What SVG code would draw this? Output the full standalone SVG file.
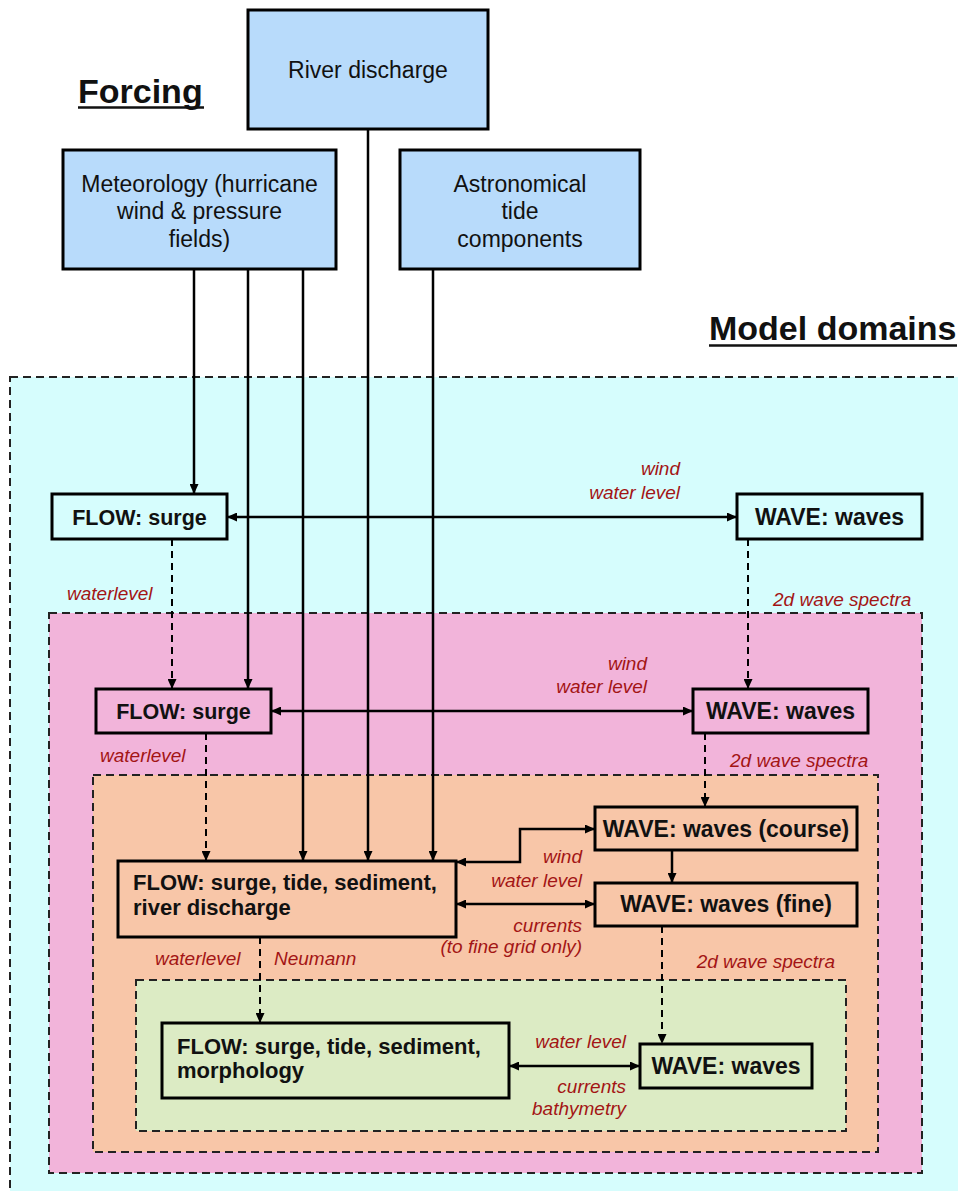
<svg xmlns="http://www.w3.org/2000/svg" width="958" height="1191" viewBox="0 0 958 1191">
  <defs>
    <marker id="arr" viewBox="0 0 10 9" refX="10" refY="4.5" markerWidth="10" markerHeight="9" markerUnits="userSpaceOnUse" orient="auto-start-reverse">
      <path d="M0,0 L10,4.5 L0,9 z" fill="#000"/>
    </marker>
    <style>
      .forcing { fill: #b8dbfb; stroke: #000; stroke-width: 3; }
      .node { stroke: #000; stroke-width: 3; }
      .domain { stroke: #222; stroke-width: 2; stroke-dasharray: 8 5; }
      .ftxt { font-family: "Liberation Sans", Arial, sans-serif; font-size: 23px; fill: #111; text-anchor: middle; }
      .ntxt { font-family: "Liberation Sans", Arial, sans-serif; font-size: 22px; font-weight: bold; fill: #111; }
      .wtxt { font-size: 23px; }
      .stxt { font-size: 21.5px; }
      .mid { text-anchor: middle; }
      .lbl { font-family: "Liberation Sans", Arial, sans-serif; font-size: 19px; font-style: italic; fill: #a31515; }
      .end { text-anchor: end; }
      .title { font-family: "Liberation Sans", Arial, sans-serif; font-size: 34px; font-weight: bold; fill: #111; }
      .solid { stroke: #000; stroke-width: 2.5; fill: none; }
      .dash { stroke: #000; stroke-width: 2; fill: none; stroke-dasharray: 7 5; }
    </style>
  </defs>

  <rect width="958" height="1191" fill="#fff"/>

  <!-- model domain containers -->
  <g id="domains">
    <rect class="domain" x="10" y="377" width="960" height="830" fill="#d6fdfd"/>
    <rect class="domain" x="49" y="613" width="873" height="560" fill="#f2b4da"/>
    <rect class="domain" x="93" y="775" width="785" height="377" fill="#f8c6a8"/>
    <rect class="domain" x="136" y="980" width="710" height="151" fill="#dcebc4"/>
  </g>

  <!-- headings -->
  <g id="headings">
    <text class="title" x="78" y="103">Forcing</text>
    <line x1="78" y1="107.5" x2="204" y2="107.5" stroke="#111" stroke-width="2.5"/>
    <text class="title" x="709" y="340">Model domains</text>
    <line x1="709" y1="345.5" x2="957" y2="345.5" stroke="#111" stroke-width="2.5"/>
  </g>

  <!-- connectors -->
  <g id="connectors">
    <line class="solid" x1="194" y1="269" x2="194" y2="494" marker-end="url(#arr)"/>
    <line class="solid" x1="248" y1="269" x2="248" y2="689" marker-end="url(#arr)"/>
    <line class="solid" x1="303" y1="269" x2="303" y2="861" marker-end="url(#arr)"/>
    <line class="solid" x1="368" y1="129" x2="368" y2="861" marker-end="url(#arr)"/>
    <line class="solid" x1="433" y1="269" x2="433" y2="861" marker-end="url(#arr)"/>

    <line class="solid" x1="227" y1="517" x2="737" y2="517" marker-start="url(#arr)" marker-end="url(#arr)"/>
    <line class="dash" x1="172" y1="539" x2="172" y2="689" marker-end="url(#arr)"/>
    <line class="dash" x1="748" y1="539" x2="748" y2="689" marker-end="url(#arr)"/>

    <line class="solid" x1="271" y1="711" x2="693" y2="711" marker-start="url(#arr)" marker-end="url(#arr)"/>
    <line class="dash" x1="206" y1="733" x2="206" y2="861" marker-end="url(#arr)"/>
    <line class="dash" x1="705" y1="733" x2="705" y2="807" marker-end="url(#arr)"/>

    <polyline class="solid" points="456,862 520,862 520,829 595,829" marker-start="url(#arr)" marker-end="url(#arr)"/>
    <line class="solid" x1="672" y1="850" x2="672" y2="883" marker-end="url(#arr)"/>
    <line class="solid" x1="456" y1="904" x2="595" y2="904" marker-start="url(#arr)" marker-end="url(#arr)"/>

    <line class="dash" x1="260" y1="937" x2="260" y2="1023" marker-end="url(#arr)"/>
    <line class="dash" x1="662" y1="926" x2="662" y2="1044" marker-end="url(#arr)"/>
    <line class="solid" x1="509" y1="1066" x2="640" y2="1066" marker-start="url(#arr)" marker-end="url(#arr)"/>
  </g>

  <!-- forcing nodes -->
  <g id="river-discharge">
    <rect class="forcing" x="248" y="10" width="240" height="119"/>
    <text class="ftxt" x="368" y="78">River discharge</text>
  </g>
  <g id="meteorology">
    <rect class="forcing" x="63" y="150" width="273" height="119"/>
    <text class="ftxt" x="199.5" y="192">Meteorology (hurricane</text>
    <text class="ftxt" x="199.5" y="219">wind &amp; pressure</text>
    <text class="ftxt" x="199.5" y="247">fields)</text>
  </g>
  <g id="astronomical-tide">
    <rect class="forcing" x="400" y="150" width="240" height="119"/>
    <text class="ftxt" x="520" y="192">Astronomical</text>
    <text class="ftxt" x="520" y="219">tide</text>
    <text class="ftxt" x="520" y="247">components</text>
  </g>

  <!-- model nodes -->
  <g id="flow-1">
    <rect class="node" x="52" y="494" width="175" height="45" fill="#d6fdfd"/>
    <text class="ntxt stxt mid" x="139.5" y="525">FLOW: surge</text>
  </g>
  <g id="wave-1">
    <rect class="node" x="737" y="494" width="185" height="45" fill="#d6fdfd"/>
    <text class="ntxt wtxt mid" x="829.5" y="525">WAVE: waves</text>
  </g>
  <g id="flow-2">
    <rect class="node" x="96" y="689" width="175" height="44" fill="#f2b4da"/>
    <text class="ntxt stxt mid" x="183.5" y="719">FLOW: surge</text>
  </g>
  <g id="wave-2">
    <rect class="node" x="693" y="689" width="175" height="44" fill="#f2b4da"/>
    <text class="ntxt wtxt mid" x="780.5" y="719">WAVE: waves</text>
  </g>
  <g id="flow-3">
    <rect class="node" x="118" y="861" width="338" height="76" fill="#f8c6a8"/>
    <text class="ntxt" x="133" y="890">FLOW: surge, tide, sediment,</text>
    <text class="ntxt" x="133" y="915">river discharge</text>
  </g>
  <g id="wave-course">
    <rect class="node" x="595" y="807" width="262" height="43" fill="#f8c6a8"/>
    <text class="ntxt wtxt mid" x="726" y="837">WAVE: waves (course)</text>
  </g>
  <g id="wave-fine">
    <rect class="node" x="595" y="883" width="262" height="43" fill="#f8c6a8"/>
    <text class="ntxt wtxt mid" x="726" y="912">WAVE: waves (fine)</text>
  </g>
  <g id="flow-4">
    <rect class="node" x="162" y="1023" width="347" height="75" fill="#dcebc4"/>
    <text class="ntxt" x="177" y="1054">FLOW: surge, tide, sediment,</text>
    <text class="ntxt" x="177" y="1078">morphology</text>
  </g>
  <g id="wave-4">
    <rect class="node" x="640" y="1044" width="172" height="44" fill="#dcebc4"/>
    <text class="ntxt wtxt mid" x="726" y="1074">WAVE: waves</text>
  </g>

  <!-- exchanged quantities -->
  <g id="labels">
    <text class="lbl end" x="680" y="475">wind</text>
    <text class="lbl end" x="680" y="499">water level</text>
    <text class="lbl" x="67" y="600">waterlevel</text>
    <text class="lbl" x="773" y="606">2d wave spectra</text>

    <text class="lbl end" x="647" y="670">wind</text>
    <text class="lbl end" x="647" y="693">water level</text>
    <text class="lbl" x="100" y="762">waterlevel</text>
    <text class="lbl" x="730" y="767">2d wave spectra</text>

    <text class="lbl end" x="582" y="863">wind</text>
    <text class="lbl end" x="582" y="887">water level</text>
    <text class="lbl end" x="582" y="932">currents</text>
    <text class="lbl end" x="582" y="953">(to fine grid only)</text>

    <text class="lbl" x="155" y="965">waterlevel</text>
    <text class="lbl" x="274" y="965">Neumann</text>
    <text class="lbl end" x="835" y="968">2d wave spectra</text>

    <text class="lbl end" x="626" y="1048">water level</text>
    <text class="lbl end" x="626" y="1093">currents</text>
    <text class="lbl end" x="626" y="1115">bathymetry</text>
  </g>
</svg>
